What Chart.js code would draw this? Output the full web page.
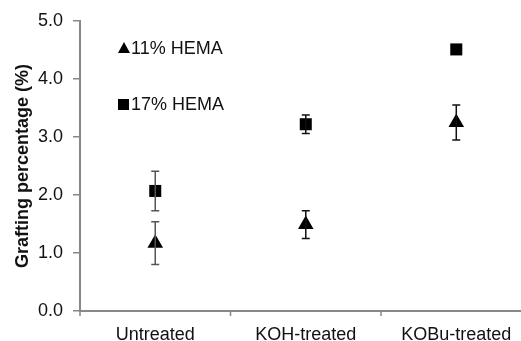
<!DOCTYPE html>
<html>
<head>
<meta charset="utf-8">
<script src="https://cdn.jsdelivr.net/npm/chart.js@4/dist/chart.umd.min.js"></script>
<style>
  html, body { margin: 0; padding: 0; background: #fff; overflow: hidden; }
  #chart { display: block; }
</style>
</head>
<body>
<canvas id="chart" width="521" height="341"></canvas>
<script>
// Werte
const categories = ['Untreated', 'KOH-treated', 'KOBu-treated'];
const seriesNames = ['11% HEMA', '17% HEMA'];
const hema11 = [1.17, 1.49, 3.25];
const hema11Err = [0.37, 0.24, 0.30];
const hema17 = [2.07, 3.22, 4.51];
const hema17Err = [0.34, 0.16, 0];
const yTicks = [0, 1, 2, 3, 4, 5];

const FONT = 'Liberation Sans, Arial, sans-serif';

// Fehlerbalken und Teilstriche der x-Achse zeichnen
const errorBars = {
  id: 'errorBars',
  afterDatasetsDraw(chart) {
    const ctx = chart.ctx;
    const x = chart.scales.x, y = chart.scales.y;
    chart.data.datasets.forEach(ds => {
      ds.data.forEach((p, i) => {
        const e = ds.err[i];
        if (!e) return;
        const px = x.getPixelForValue(p.x);
        const top = y.getPixelForValue(p.y + e);
        const bot = y.getPixelForValue(p.y - e);
        ctx.save();
        ctx.strokeStyle = i == 0 ? '#555' : '#111';
        ctx.lineWidth = 1.5;
        ctx.beginPath();
        ctx.moveTo(px, top); ctx.lineTo(px, bot);
        ctx.moveTo(px - 4, top); ctx.lineTo(px + 4, top);
        ctx.moveTo(px - 4, bot); ctx.lineTo(px + 4, bot);
        ctx.stroke();
        ctx.restore();
      });
    });
    // Teilstriche zwischen den Kategorien
    ctx.save();
    ctx.strokeStyle = '#888';
    ctx.lineWidth = 1.5;
    ctx.beginPath();
    for (let i = 0; i < categories.length; i++) {
      const bx = x.getPixelForValue(i - 0.5);
      ctx.moveTo(bx, y.bottom);
      ctx.lineTo(bx, y.bottom + 5);
    }
    ctx.stroke();
    ctx.restore();
  }
};

// Legende innerhalb des Plots
const innerLegend = {
  id: 'innerLegend',
  afterDraw(chart) {
    const ctx = chart.ctx;
    const rows = [48, 104];
    chart.data.datasets.forEach((ds, i) => {
      const yy = rows[i];
      ctx.save();
      ctx.fillStyle = '#000';
      if (ds.pointStyle == 'triangle') {
        ctx.beginPath();
        ctx.moveTo(124, yy - 6);
        ctx.lineTo(130, yy + 5);
        ctx.lineTo(118, yy + 5);
        ctx.closePath();
        ctx.fill();
      } else {
        ctx.fillRect(118, yy - 5, 11, 11);
      }
      ctx.font = '18px ' + FONT;
      ctx.fillStyle = '#111';
      ctx.textBaseline = 'middle';
      ctx.fillText(ds.label, 131, yy + 1);
      ctx.restore();
    });
  }
};

const ctx = document.getElementById('chart').getContext('2d');
new Chart(ctx, {
  type: 'line',
  data: {
    datasets: [{
      label: seriesNames[0],
      data: hema11.map((v, i) => ({ x: i, y: v })),
      err: hema11Err,
      showLine: false,
      pointStyle: 'triangle',
      pointRadius: 9,
      backgroundColor: '#000',
      borderColor: '#000',
      borderWidth: 0
    }, {
      label: seriesNames[1],
      data: hema17.map((v, i) => ({ x: i, y: v })),
      err: hema17Err,
      showLine: false,
      pointStyle: 'rect',
      pointRadius: 8.5,
      backgroundColor: '#000',
      borderColor: '#000',
      borderWidth: 0
    }]
  },
  options: {
    responsive: false,
    animation: false,
    layout: { autoPadding: false, padding: { top: 21, left: 0, right: 0, bottom: 0 } },
    plugins: {
      legend: { display: false },
      tooltip: { enabled: false }
    },
    scales: {
      x: {
        type: 'linear',
        // rechter Rand ist im Original abgeschnitten
        min: -0.5,
        max: 2.43,
        afterBuildTicks(scale) { scale.ticks = categories.map((c, i) => ({ value: i })); },
        grid: { display: false },
        border: { color: '#888', width: 2 },
        ticks: {
          font: { family: FONT, size: 18 },
          color: '#111',
          padding: 5,
          maxRotation: 0,
          autoSkip: false,
          callback: v => categories[v]
        },
        afterFit(scale) {
          scale.height = 30;
          scale.paddingLeft = 0;
          scale.paddingRight = 0;
        }
      },
      y: {
        min: 0,
        max: 5,
        afterBuildTicks(scale) { scale.ticks = yTicks.map(v => ({ value: v })); },
        grid: {
          drawOnChartArea: false,
          drawTicks: true,
          tickLength: 7,
          color: '#888',
          lineWidth: 1.5
        },
        border: { color: '#888', width: 2 },
        ticks: {
          font: { family: FONT, size: 18 },
          color: '#111',
          padding: 10,
          callback: v => v.toFixed(1)
        },
        title: {
          display: true,
          text: 'Grafting percentage (%)',
          font: { family: FONT, size: 18, weight: 'bold' },
          color: '#111',
          padding: { top: 12, bottom: 2 }
        },
        afterFit(scale) { scale.width = 80; }
      }
    }
  },
  plugins: [errorBars, innerLegend]
});
</script>
</body>
</html>
